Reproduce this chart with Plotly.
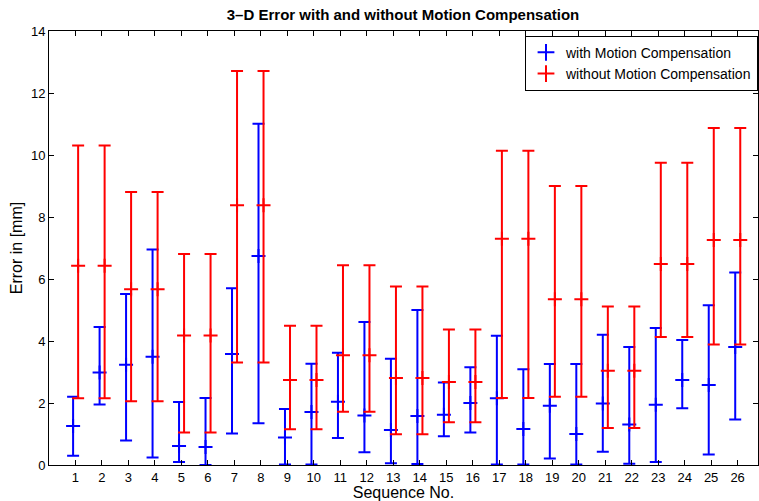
import plotly.graph_objects as go

seq = list(range(1, 27))
tick_labels = [str(i) for i in seq]

# with Motion Compensation (blue)
blue_mean = [1.26, 2.98, 3.23, 3.49, 0.61, 0.58, 3.58, 6.74, 0.89, 1.71, 2.04, 1.60, 1.13,
             1.58, 1.62, 2.00, 2.15, 1.16, 1.91, 1.00, 1.98, 1.31, 1.94, 2.74, 2.58, 3.81]
blue_upper = [2.20, 4.45, 5.52, 6.95, 2.03, 2.16, 5.70, 11.01, 1.81, 3.27, 3.62, 4.61, 3.43,
              5.00, 2.66, 3.15, 4.17, 3.09, 3.26, 3.26, 4.20, 3.81, 4.42, 4.03, 5.15, 6.21]
blue_lower = [0.30, 1.95, 0.79, 0.24, 0.10, 0.00, 1.02, 1.35, 0.02, 0.02, 0.87, 0.41, 0.06,
              0.03, 0.93, 1.05, 0.02, 0.02, 0.21, 0.02, 0.43, 0.04, 0.10, 1.83, 0.34, 1.47]

# without Motion Compensation (red)
red_mean = [6.43, 6.43, 5.67, 5.67, 4.18, 4.18, 8.38, 8.38, 2.74, 2.74, 3.54, 3.54, 2.81,
            2.81, 2.68, 2.68, 7.30, 7.30, 5.35, 5.35, 3.04, 3.04, 6.48, 6.48, 7.26, 7.26]
red_upper = [10.31, 10.31, 8.81, 8.81, 6.81, 6.81, 12.71, 12.71, 4.49, 4.49, 6.44, 6.44, 5.76,
             5.76, 4.37, 4.37, 10.14, 10.14, 9.00, 9.00, 5.11, 5.11, 9.75, 9.75, 10.87, 10.87]
red_lower = [2.15, 2.15, 2.06, 2.06, 1.05, 1.05, 3.31, 3.31, 1.15, 1.15, 1.72, 1.72, 0.99,
             0.99, 1.38, 1.38, 2.16, 2.16, 2.20, 2.20, 1.19, 1.19, 4.13, 4.13, 3.89, 3.89]

y_ticks = [0, 2, 4, 6, 8, 10, 12, 14]

BLUE = "rgb(0,0,255)"
RED = "rgb(255,0,0)"


def make_trace(xs, mean, up, lo, color, name, offset):
    return go.Scatter(
        x=[x + offset for x in xs],
        y=mean,
        mode="markers",
        name=name,
        marker=dict(symbol="cross-thin", size=10, color=color,
                    line=dict(color=color, width=2)),
        error_y=dict(type="data", symmetric=False,
                     array=[u - m for u, m in zip(up, mean)],
                     arrayminus=[m - l for m, l in zip(mean, lo)],
                     color=color, thickness=2, width=6),
    )


fig = go.Figure()
fig.add_trace(make_trace(seq, blue_mean, blue_upper, blue_lower, BLUE,
                         "with Motion Compensation", -0.09))
fig.add_trace(make_trace(seq, red_mean, red_upper, red_lower, RED,
                         "without Motion Compensation", 0.10))

axis_common = dict(showline=True, linecolor="black", linewidth=1, mirror="ticks",
                   ticks="inside", ticklen=5, tickcolor="black", showgrid=False,
                   zeroline=False, tickfont=dict(size=13, color="black"))

fig.update_layout(
    width=759, height=501,
    margin=dict(l=49, r=1, t=31, b=36),
    paper_bgcolor="white", plot_bgcolor="white",
    font=dict(family="Liberation Sans, Arial, sans-serif", size=13, color="black"),
    title=dict(text="<b>3\u2013D Error with and without Motion Compensation</b>",
               x=0.531, xanchor="center", y=0.971, yanchor="middle",
               font=dict(size=15, color="black")),
    xaxis=dict(range=[0, 26.77], tickmode="array", tickvals=seq, ticktext=tick_labels,
               title=dict(text="Sequence No.", font=dict(size=16), standoff=0),
               **axis_common),
    yaxis=dict(range=[0, 14], tickmode="array", tickvals=y_ticks,
               title=dict(text="Error in [mm]", font=dict(size=16), standoff=4),
               **axis_common),
    legend=dict(x=1, y=0.989, xanchor="right", yanchor="top",
                bgcolor="white", bordercolor="black", borderwidth=1,
                font=dict(size=14), tracegroupgap=0, itemsizing="constant"),
    showlegend=True,
)

fig.write_html("out.html", config={"displayModeBar": False},
               post_script="document.body.style.margin='0';")
